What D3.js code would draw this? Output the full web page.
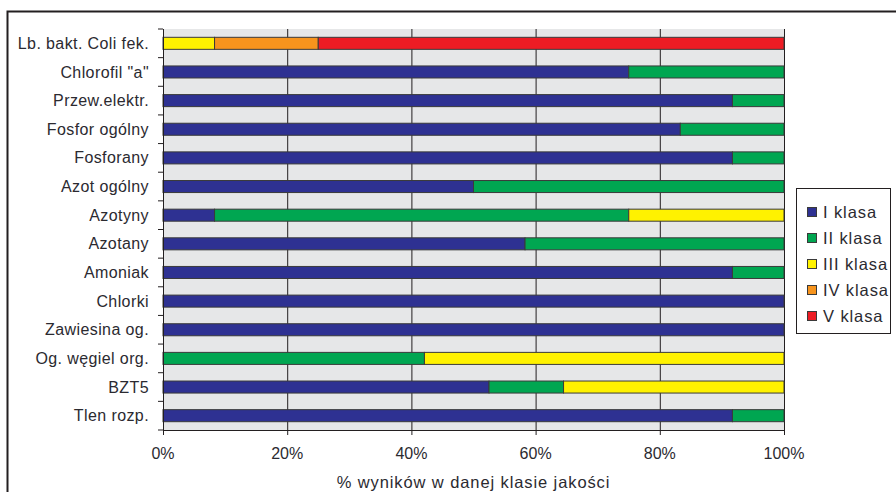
<!DOCTYPE html>
<html>
<head>
<meta charset="utf-8">
<script src="https://cdn.jsdelivr.net/npm/d3@7"></script>
<style>
  body { margin: 0; background: #fff; }
  text { font-family: "Liberation Sans", Arial, sans-serif; fill: #2b2a30; }
</style>
</head>
<body>
<div id="app"></div>
<script>
// categories, top to bottom
const categories = ['Lb. bakt. Coli fek.', 'Chlorofil "a"', 'Przew.elektr.', 'Fosfor ogólny', 'Fosforany',
  'Azot ogólny', 'Azotyny', 'Azotany', 'Amoniak', 'Chlorki', 'Zawiesina og.', 'Og. węgiel org.', 'BZT5', 'Tlen rozp.'];
const seriesNames = ['I klasa', 'II klasa', 'III klasa', 'IV klasa', 'V klasa'];
const colors = ['#2e3192', '#00a651', '#fff200', '#f7941d', '#ed1c24'];

// percent of results per class
const klasaI   = [0,    75,   91.7, 83.3, 91.7, 50, 8.3,  58.3, 91.7, 100, 100, 0,    52.5, 91.7];
const klasaII  = [0,    25,   8.3,  16.7, 8.3,  50, 66.7, 41.7, 8.3,  0,   0,   42.1, 12,   8.3];
const klasaIII = [8.3,  0,    0,    0,    0,    0,  25,   0,    0,    0,   0,   57.9, 35.5, 0];
const klasaIV  = [16.7, 0,    0,    0,    0,    0,  0,    0,    0,    0,   0,   0,    0,    0];
const klasaV   = [75,   0,    0,    0,    0,    0,  0,    0,    0,    0,   0,   0,    0,    0];
const xTicks = [0, 20, 40, 60, 80, 100];

const W = 896, H = 492;
const margin = { left: 163, top: 29, right: 784, bottom: 430 };

const svg = d3.select('#app').append('svg')
  .attr('width', W).attr('height', H);

// outer frame
svg.append('rect')
  .attr('x', 7.5).attr('y', 11.5)
  .attr('width', W + 10).attr('height', H + 10)
  .attr('fill', 'none').attr('stroke', '#231f20').attr('stroke-width', 2);

const x = d3.scaleLinear().domain([0, 100]).range([margin.left, margin.right]);
const y = d3.scaleBand().domain(categories).range([margin.top, margin.bottom]).paddingInner(0.58).paddingOuter(0.29);
const yb = d3.scaleBand().domain(categories).range([margin.top, margin.bottom]);

// plot background
svg.append('rect')
  .attr('x', margin.left).attr('y', margin.top)
  .attr('width', margin.right - margin.left).attr('height', margin.bottom - margin.top)
  .attr('fill', '#e6e7e8');

// vertical gridlines
svg.append('g').selectAll('line').data(xTicks.slice(1))
  .join('line')
  .attr('x1', d => x(d) + 0.5).attr('x2', d => x(d) + 0.5)
  .attr('y1', margin.top).attr('y2', margin.bottom)
  .attr('stroke', '#231f20').attr('stroke-width', 1);

// stacked data
const rows = categories.map((c, i) => ({
  cat: c, 'I klasa': klasaI[i], 'II klasa': klasaII[i], 'III klasa': klasaIII[i],
  'IV klasa': klasaIV[i], 'V klasa': klasaV[i]
}));
const stack = d3.stack().keys(seriesNames)(rows);

svg.append('g').selectAll('g').data(stack)
  .join('g')
  .attr('fill', (d, i) => colors[i])
  .selectAll('rect').data(d => d.filter(s => s[1] - s[0] > 0))
  .join('rect')
  .attr('x', d => x(d[0]))
  .attr('y', d => y(d.data.cat))
  .attr('width', d => x(d[1]) - x(d[0]))
  .attr('height', y.bandwidth())
  .attr('stroke', '#3a3a3a').attr('stroke-width', 1);

// left axis: tick marks on band boundaries
const yTickPos = categories.map(c => yb(c)).concat([margin.bottom]);
svg.append('g').selectAll('line').data(yTickPos)
  .join('line')
  .attr('x1', margin.left - 5).attr('x2', margin.left)
  .attr('y1', d => d).attr('y2', d => d)
  .attr('stroke', '#231f20');
svg.append('line')
  .attr('x1', margin.left + 0.5).attr('x2', margin.left + 0.5)
  .attr('y1', margin.top).attr('y2', margin.bottom)
  .attr('stroke', '#231f20');

svg.append('g').selectAll('text').data(categories)
  .join('text')
  .attr('x', 149)
  .attr('y', d => yb(d) + yb.bandwidth() / 2)
  .attr('dy', '0.35em')
  .attr('text-anchor', 'end')
  .attr('font-size', 16)
  .attr('letter-spacing', 0.4)
  .text(d => d);

// bottom axis
svg.append('line')
  .attr('x1', margin.left).attr('x2', margin.right)
  .attr('y1', margin.bottom + 0.5).attr('y2', margin.bottom + 0.5)
  .attr('stroke', '#231f20');
svg.append('g').selectAll('line').data(xTicks)
  .join('line')
  .attr('x1', d => x(d) + 0.5).attr('x2', d => x(d) + 0.5)
  .attr('y1', margin.bottom).attr('y2', margin.bottom + 5)
  .attr('stroke', '#231f20');
svg.append('g').selectAll('text').data(xTicks)
  .join('text')
  .attr('x', d => x(d))
  .attr('y', 459)
  .attr('text-anchor', 'middle')
  .attr('font-size', 16)
  .text(d => d + '%');

svg.append('text')
  .attr('x', (margin.left + margin.right) / 2)
  .attr('y', 488)
  .attr('text-anchor', 'middle')
  .attr('font-size', 16.5)
  .attr('letter-spacing', 0.9)
  .text('% wyników w danej klasie jakości');

// legend
const lg = svg.append('g');
lg.append('rect')
  .attr('x', 796.5).attr('y', 188.5).attr('width', 94).attr('height', 145)
  .attr('fill', '#fff').attr('stroke', '#231f20').attr('stroke-width', 1);
const items = lg.selectAll('g').data(seriesNames).join('g')
  .attr('transform', (d, i) => `translate(807, ${212 + i * 26})`);
items.append('rect')
  .attr('x', 0.5).attr('y', -4.5).attr('width', 9).attr('height', 9)
  .attr('fill', (d, i) => colors[i]).attr('stroke', '#3a3a3a');
items.append('text')
  .attr('x', 16).attr('y', 0).attr('dy', '0.35em')
  .attr('font-size', 16.5)
  .attr('letter-spacing', 0.9)
  .text(d => d);
</script>
</body>
</html>
